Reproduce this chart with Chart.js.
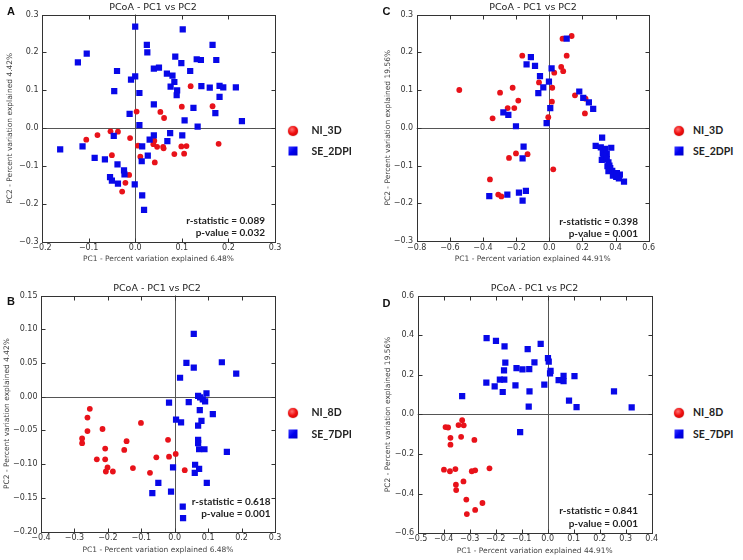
<!DOCTYPE html>
<html><head><meta charset="utf-8">
<script src="https://cdn.jsdelivr.net/npm/chart.js@4.4.0/dist/chart.umd.min.js"></script>
<style>
body{margin:0;background:#fff;width:743px;height:560px;position:relative;overflow:hidden;font-family:"DejaVu Sans",sans-serif;}
canvas{position:absolute;}
.t{position:absolute;white-space:nowrap;transform:translate(-50%,-50%);line-height:1;}
.title{font-family:"DejaVu Sans";font-size:9.5px;color:#222;}
.letter{font-family:"Liberation Sans",Arial;font-weight:bold;font-size:11px;color:#111;}
.stat{position:absolute;white-space:nowrap;transform:translate(-100%,-50%);font-family:Lato,"Open Sans";font-weight:bold;font-size:10px;color:#222;line-height:1;}
.lg{position:absolute;white-space:nowrap;transform:translate(0,-50%);font-family:Lato,"Open Sans";font-weight:bold;font-size:10.5px;color:#222;line-height:1;}
.dot{position:absolute;width:10px;height:10px;border-radius:50%;transform:translate(-50%,-50%);background:radial-gradient(circle at 40% 35%,#ff7070 0%,#f01010 45%,#c00000 100%);box-shadow:0 0 1px #900;}
.sq{position:absolute;width:9px;height:9px;transform:translate(-50%,-50%);background:linear-gradient(135deg,#3a3aff 0%,#0000f0 50%,#0000c0 100%);box-shadow:0 0 1px #00a;}
</style></head><body>
<canvas id="cA" width="290" height="280" style="left:0;top:0;width:290px;height:280px"></canvas>
<canvas id="cC" width="290" height="280" style="left:370px;top:0;width:290px;height:280px"></canvas>
<canvas id="cB" width="290" height="280" style="left:0;top:280px;width:290px;height:280px"></canvas>
<canvas id="cD" width="290" height="280" style="left:370px;top:280px;width:290px;height:280px"></canvas>

<div class="t letter" style="left:11px;top:10.5px">A</div>
<div class="t letter" style="left:386.5px;top:10.5px">C</div>
<div class="t letter" style="left:11px;top:301px">B</div>
<div class="t letter" style="left:386.5px;top:302.5px">D</div>

<div class="t title" style="left:153px;top:7px">PCoA - PC1 vs PC2</div>
<div class="t title" style="left:533px;top:7px">PCoA - PC1 vs PC2</div>
<div class="t title" style="left:157px;top:287.5px">PCoA - PC1 vs PC2</div>
<div class="t title" style="left:534.5px;top:287.5px">PCoA - PC1 vs PC2</div>

<div class="stat" style="left:265px;top:220px">r-statistic = 0.089</div>
<div class="stat" style="left:265px;top:232px">p-value = 0.032</div>
<div class="stat" style="left:638px;top:220.5px">r-statistic = 0.398</div>
<div class="stat" style="left:638px;top:232.5px">p-value = 0.001</div>
<div class="stat" style="left:270.5px;top:501px">r-statistic = 0.618</div>
<div class="stat" style="left:270.5px;top:513px">p-value = 0.001</div>
<div class="stat" style="left:638px;top:510px">r-statistic = 0.841</div>
<div class="stat" style="left:638px;top:523px">p-value = 0.001</div>

<div class="dot" style="left:292.5px;top:130.5px"></div><div class="lg" style="left:311.5px;top:129.5px">NI_3D</div>
<div class="sq" style="left:292.5px;top:151px"></div><div class="lg" style="left:311.5px;top:151px">SE_2DPI</div>
<div class="dot" style="left:678.5px;top:130.5px"></div><div class="lg" style="left:693px;top:129.5px">NI_3D</div>
<div class="sq" style="left:678.5px;top:151px"></div><div class="lg" style="left:693px;top:151px">SE_2DPI</div>
<div class="dot" style="left:292.5px;top:413px"></div><div class="lg" style="left:311.5px;top:412px">NI_8D</div>
<div class="sq" style="left:292.5px;top:433.5px"></div><div class="lg" style="left:311.5px;top:433.5px">SE_7DPI</div>
<div class="dot" style="left:678.5px;top:413px"></div><div class="lg" style="left:693px;top:412px">NI_8D</div>
<div class="sq" style="left:678.5px;top:433.5px"></div><div class="lg" style="left:693px;top:433.5px">SE_7DPI</div>

<script>
// ---------- data ----------
const A_NI_3D = [[0.119,0.111],[0.100,0.057],[0.166,0.058],[0.003,0.044],[0.054,0.043],[0.062,0.027],[-0.053,-0.008],[-0.037,-0.009],[-0.081,-0.018],[-0.105,-0.030],[-0.011,-0.026],[0.179,-0.041],[0.006,-0.046],[0.041,-0.033],[0.039,-0.042],[0.047,-0.049],[0.060,-0.049],[0.061,-0.053],[0.099,-0.048],[0.110,-0.047],[0.105,-0.067],[0.084,-0.068],[-0.050,-0.071],[0.011,-0.075],[0.042,-0.090],[-0.013,-0.123],[-0.021,-0.144],[-0.028,-0.167]];
const A_SE_2DPI = [[0.000,0.268],[0.102,0.261],[0.025,0.220],[0.026,0.200],[0.166,0.220],[-0.123,0.174],[-0.104,0.197],[0.132,0.182],[0.141,0.180],[0.174,0.180],[0.086,0.189],[0.099,0.172],[-0.039,0.151],[0.040,0.157],[0.051,0.160],[0.068,0.144],[0.080,0.139],[0.118,0.151],[0.000,0.137],[-0.009,0.128],[0.084,0.122],[0.076,0.110],[0.090,0.100],[0.089,0.087],[0.142,0.111],[0.160,0.107],[0.181,0.112],[0.189,0.108],[0.216,0.108],[0.181,0.083],[-0.045,0.098],[0.009,0.093],[0.040,0.063],[0.125,0.054],[0.172,0.040],[-0.012,0.038],[0.106,0.021],[0.229,0.019],[0.009,0.008],[0.134,0.004],[-0.046,-0.020],[0.040,-0.019],[0.075,-0.013],[0.101,-0.019],[0.031,-0.030],[0.069,-0.034],[-0.113,-0.048],[-0.161,-0.056],[0.015,-0.048],[-0.087,-0.078],[-0.065,-0.082],[-0.038,-0.095],[0.027,-0.072],[0.014,-0.087],[-0.024,-0.111],[-0.023,-0.122],[-0.054,-0.129],[-0.050,-0.138],[-0.037,-0.146],[-0.001,-0.148],[0.015,-0.177],[0.019,-0.215]];

const C_NI_3D = [[0.135,0.243],[0.080,0.236],[0.105,0.191],[-0.163,0.191],[0.072,0.161],[0.084,0.150],[0.030,0.146],[-0.062,0.120],[0.018,0.106],[-0.221,0.106],[-0.543,0.100],[-0.297,0.093],[-0.187,0.072],[0.155,0.086],[0.219,0.077],[0.016,0.069],[-0.251,0.052],[-0.211,0.052],[0.215,0.038],[-0.006,0.028],[-0.342,0.025],[-0.201,-0.068],[-0.131,-0.070],[-0.243,-0.080],[0.024,-0.110],[-0.358,-0.137],[-0.308,-0.177],[-0.289,-0.182]];
const C_SE_2DPI = [[0.105,0.236],[-0.111,0.187],[-0.137,0.168],[-0.086,0.164],[0.014,0.157],[-0.056,0.137],[-0.036,0.107],[-0.066,0.092],[-0.002,0.122],[0.181,0.096],[0.205,0.079],[0.239,0.067],[0.265,0.050],[0.006,0.052],[-0.016,0.012],[-0.277,0.041],[-0.247,0.034],[-0.201,0.004],[-0.155,-0.050],[-0.161,-0.081],[-0.362,-0.181],[-0.253,-0.177],[-0.183,-0.172],[-0.141,-0.167],[-0.161,-0.193],[0.319,-0.026],[0.280,-0.048],[0.311,-0.052],[0.337,-0.056],[0.374,-0.053],[0.323,-0.067],[0.347,-0.069],[0.333,-0.075],[0.327,-0.076],[0.317,-0.085],[0.347,-0.083],[0.357,-0.092],[0.363,-0.100],[0.351,-0.102],[0.368,-0.107],[0.357,-0.115],[0.380,-0.114],[0.392,-0.120],[0.408,-0.120],[0.426,-0.124],[0.384,-0.127],[0.404,-0.130],[0.420,-0.134],[0.451,-0.143]];

const B_NI_8D = [[-0.254,-0.018],[-0.261,-0.031],[-0.261,-0.051],[-0.277,-0.062],[-0.277,-0.069],[-0.216,-0.048],[-0.208,-0.077],[-0.208,-0.093],[-0.233,-0.093],[-0.201,-0.105],[-0.206,-0.111],[-0.185,-0.111],[-0.144,-0.066],[-0.151,-0.079],[-0.101,-0.039],[-0.125,-0.106],[-0.074,-0.113],[-0.055,-0.090],[-0.020,-0.064],[-0.017,-0.089],[0.003,-0.085],[0.030,-0.109]];
const B_SE_7DPI = [[0.057,0.093],[0.035,0.050],[0.057,0.043],[0.141,0.051],[0.184,0.034],[0.016,0.028],[0.095,0.005],[0.070,0.001],[0.076,-0.001],[0.084,-0.004],[0.091,-0.007],[-0.017,-0.009],[0.042,-0.008],[0.075,-0.020],[0.004,-0.034],[0.019,-0.038],[0.080,-0.036],[0.114,-0.026],[0.070,-0.043],[0.070,-0.064],[0.070,-0.069],[0.073,-0.078],[0.089,-0.078],[0.156,-0.082],[-0.005,-0.105],[0.061,-0.101],[0.073,-0.107],[0.060,-0.113],[0.096,-0.128],[-0.049,-0.128],[-0.067,-0.143],[-0.011,-0.141],[0.024,-0.163],[0.025,-0.180]];

const D_NI_8D = [[-0.329,-0.029],[-0.343,-0.054],[-0.323,-0.055],[-0.393,-0.064],[-0.383,-0.066],[-0.333,-0.113],[-0.374,-0.118],[-0.374,-0.153],[-0.282,-0.129],[-0.399,-0.279],[-0.376,-0.287],[-0.355,-0.276],[-0.292,-0.287],[-0.279,-0.282],[-0.224,-0.272],[-0.324,-0.338],[-0.353,-0.355],[-0.352,-0.382],[-0.313,-0.430],[-0.251,-0.447],[-0.279,-0.482],[-0.311,-0.503]];
const D_SE_7DPI = [[-0.235,0.385],[-0.199,0.371],[-0.166,0.343],[-0.027,0.356],[-0.077,0.329],[0.001,0.284],[0.004,0.266],[-0.051,0.262],[-0.163,0.261],[-0.120,0.234],[-0.097,0.227],[-0.071,0.229],[-0.168,0.222],[-0.184,0.176],[-0.167,0.176],[-0.236,0.160],[-0.204,0.141],[-0.124,0.146],[-0.070,0.116],[-0.173,0.113],[-0.013,0.150],[0.011,0.220],[0.009,0.207],[0.042,0.173],[0.061,0.195],[0.061,0.168],[0.103,0.193],[0.082,0.069],[0.111,0.037],[-0.073,0.039],[-0.329,0.092],[-0.106,-0.089],[0.255,0.116],[0.323,0.035]];

const A_xTicks = [-0.2,-0.1,0,0.1,0.2,0.3];
const A_yTicks = [-0.3,-0.2,-0.1,0,0.1,0.2,0.3];
const C_xTicks = [-0.8,-0.6,-0.4,-0.2,0,0.2,0.4,0.6];
const C_yTicks = [-0.3,-0.2,-0.1,0,0.1,0.2,0.3];
const B_xTicks = [-0.4,-0.3,-0.2,-0.1,0,0.1,0.2,0.3];
const B_yTicks = [-0.2,-0.15,-0.1,-0.05,0,0.05,0.1,0.15];
const D_xTicks = [-0.5,-0.4,-0.3,-0.2,-0.1,0,0.1,0.2,0.3,0.4];
const D_yTicks = [-0.6,-0.4,-0.2,0,0.2,0.4,0.6];

const X_TITLE_A = 'PC1 - Percent variation explained 6.48%';
const Y_TITLE_A = 'PC2 - Percent variation explained 4.42%';
const X_TITLE_C = 'PC1 - Percent variation explained 44.91%';
const Y_TITLE_C = 'PC2 - Percent variation explained 19.56%';

// ---------- drawing ----------
const RED = '#e8121a', BLUE = '#0808e8';
const fmt = d => v => { if (Math.abs(v) < 1e-9) v = 0; const s = v.toFixed(d); return s.replace('-', '\u2212'); };

const frame = {
  id: 'frame',
  beforeDatasetsDraw(chart) {
    const {ctx, chartArea: a, scales: {x, y}} = chart;
    ctx.save();
    ctx.strokeStyle = '#555'; ctx.lineWidth = 1;
    const x0 = Math.round(x.getPixelForValue(0)) + 0.5;
    const y0 = Math.round(y.getPixelForValue(0)) + 0.5;
    ctx.beginPath();
    ctx.moveTo(x0, a.top); ctx.lineTo(x0, a.bottom);
    ctx.moveTo(a.left, y0); ctx.lineTo(a.right, y0);
    ctx.stroke();
    ctx.restore();
  },
  afterDraw(chart) {
    const {ctx, chartArea: a, scales: {x, y}} = chart;
    const L = Math.round(a.left) + 0.5, R = Math.round(a.right) + 0.5, T = Math.round(a.top) + 0.5, B = Math.round(a.bottom) + 0.5;
    ctx.save();
    ctx.strokeStyle = '#333'; ctx.lineWidth = 1;
    ctx.strokeRect(L, T, R - L, B - T);
    ctx.beginPath();
    x.ticks.forEach(t => { const p = Math.round(x.getPixelForValue(t.value)) + 0.5; ctx.moveTo(p, B); ctx.lineTo(p, B - 4); ctx.moveTo(p, T); ctx.lineTo(p, T + 4); });
    y.ticks.forEach(t => { const p = Math.round(y.getPixelForValue(t.value)) + 0.5; ctx.moveTo(L, p); ctx.lineTo(L + 4, p); ctx.moveTo(R, p); ctx.lineTo(R - 4, p); });
    ctx.stroke();
    ctx.restore();
  }
};

function toPts(arr) { return arr.map(p => ({x: p[0], y: p[1]})); }

function panel(id, red, blue, xT, yT, xd, yd, xTitle, yTitle, L) {
  const tickFont = {family: 'DejaVu Sans', size: 8};
  const titleFont = {family: 'DejaVu Sans', size: 7.5, lineHeight: 1.2};
  new Chart(document.getElementById(id), {
    type: 'scatter',
    data: {datasets: [
      {data: toPts(red), pointStyle: 'circle', pointRadius: 2.9, backgroundColor: RED, borderWidth: 0, order: 1},
      {data: toPts(blue), pointStyle: 'rect', pointRadius: 4.4, backgroundColor: BLUE, borderWidth: 0, order: 0}
    ]},
    options: {
      responsive: false, animation: false, events: [],
      layout: {padding: {left: 0, top: L.top, right: 290 - L.right, bottom: 0}},
      plugins: {legend: {display: false}, tooltip: {enabled: false}, title: {display: false}},
      scales: {
        x: {type: 'linear', min: xT[0], max: xT[xT.length - 1],
            afterBuildTicks: s => { s.ticks = xT.map(v => ({value: v})); },
            afterFit: s => { s.height = 280 - L.bottom; },
            grid: {display: false, drawTicks: false}, border: {display: false},
            ticks: {font: tickFont, color: '#333', padding: L.xpad, maxRotation: 0, autoSkip: false, callback: fmt(xd)},
            title: {display: true, text: xTitle, font: titleFont, color: '#444', padding: {top: 0, bottom: L.xTitleFromBottom - 4.5}}},
        y: {type: 'linear', min: yT[0], max: yT[yT.length - 1],
            afterBuildTicks: s => { s.ticks = yT.map(v => ({value: v})); },
            afterFit: s => { s.width = L.left; },
            grid: {display: false, drawTicks: false}, border: {display: false},
            ticks: {font: tickFont, color: '#333', padding: 3.5, autoSkip: false, callback: fmt(yd)},
            title: {display: true, text: yTitle, font: titleFont, color: '#444', padding: {top: L.yTitleX - 4.5, bottom: 0}}}
      }
    },
    plugins: [frame]
  });
}

panel('cA', A_NI_3D, A_SE_2DPI, A_xTicks, A_yTicks, 1, 1, X_TITLE_A, Y_TITLE_A,
  {left: 42, top: 14.5, right: 275, bottom: 242, xpad: 1.5, xTitleFromBottom: 21, yTitleX: 10});
panel('cC', C_NI_3D, C_SE_2DPI, C_xTicks, C_yTicks, 1, 1, X_TITLE_C, Y_TITLE_C,
  {left: 46.7, top: 14.5, right: 278.7, bottom: 241, xpad: 2.5, xTitleFromBottom: 21, yTitleX: 18.3});
panel('cB', B_NI_8D, B_SE_7DPI, B_xTicks, B_yTicks, 1, 2, X_TITLE_A, Y_TITLE_A,
  {left: 41, top: 15.5, right: 275, bottom: 251.5, xpad: 1.4, xTitleFromBottom: 10, yTitleX: 6.7});
panel('cD', D_NI_8D, D_SE_7DPI, D_xTicks, D_yTicks, 1, 1, X_TITLE_C, Y_TITLE_C,
  {left: 47.7, top: 15.5, right: 281.7, bottom: 253.3, xpad: 0.5, xTitleFromBottom: 9, yTitleX: 18.3});
</script>
</body></html>
